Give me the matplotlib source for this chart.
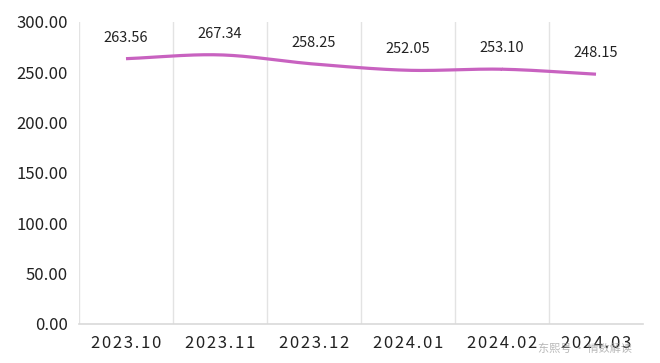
import matplotlib.pyplot as plt
import numpy as np

plt.rcParams['font.family'] = ['Noto Sans CJK SC', 'DejaVu Sans']

months = ["2023.10", "2023.11", "2023.12", "2024.01", "2024.02", "2024.03"]
prices = [263.56, 267.34, 258.25, 252.05, 253.10, 248.15]
y_ticks = [0, 50, 100, 150, 200, 250, 300]

line_color = "#C862C0"
grid_color = "#E3E3E3"


def smooth(x, y, n=30):
    # catmull-rom through the points, like the office "smoothed line"
    x = np.asarray(x, float)
    y = np.asarray(y, float)
    px = np.concatenate([[2 * x[0] - x[1]], x, [2 * x[-1] - x[-2]]])
    py = np.concatenate([[2 * y[0] - y[1]], y, [2 * y[-1] - y[-2]]])
    xs, ys = [], []
    t = np.linspace(0, 1, n)
    for i in range(1, len(px) - 2):
        p0, p1, p2, p3 = py[i - 1], py[i], py[i + 1], py[i + 2]
        ys.append(0.5 * (2 * p1 + (-p0 + p2) * t + (2 * p0 - 5 * p1 + 4 * p2 - p3) * t ** 2
                         + (-p0 + 3 * p1 - 3 * p2 + p3) * t ** 3))
        xs.append(px[i] + (px[i + 1] - px[i]) * t)
    return np.concatenate(xs), np.concatenate(ys)


fig = plt.figure(figsize=(6.6, 3.63), dpi=100)
ax = fig.add_axes([79 / 660, 1 - 324 / 363, 564 / 660, 302 / 363])

x = np.arange(len(months))
sx, sy = smooth(x, prices)
ax.plot(sx, sy, color=line_color, lw=2.3, solid_capstyle='butt', zorder=3)

for xi, v in zip(x, prices):
    ax.annotate(f"{v:.2f}", (xi, v), xytext=(0, 10), textcoords='offset points',
                ha='center', va='bottom', fontsize=10.5, color='#222222')

ax.set_xlim(-0.5, len(months) - 0.5)
ax.set_ylim(0, 300)
ax.set_yticks(y_ticks)
ax.set_yticklabels([f"{t:.2f}" for t in y_ticks], fontsize=12, color='#222222')
ax.set_xticks(x)
ax.set_xticklabels(['\u200a'.join(m) for m in months], fontsize=12, color='#222222')

for b in np.arange(-0.5, len(months) - 0.5, 1.0):
    ax.axvline(b, color=grid_color, lw=1, zorder=1)

for s in ['top', 'right', 'left']:
    ax.spines[s].set_visible(False)
ax.spines['bottom'].set_color('#D9D9D9')
ax.spines['bottom'].set_linewidth(1.2)
ax.tick_params(axis='both', length=0)
ax.tick_params(axis='y', pad=8)
ax.tick_params(axis='x', pad=8)

fig.text(0.958, 0.025, "东熙号 · 情数解读", ha='right', va='bottom', fontsize=8,
         color='#999999', alpha=0.7)

fig.savefig("out.png", dpi=100)
